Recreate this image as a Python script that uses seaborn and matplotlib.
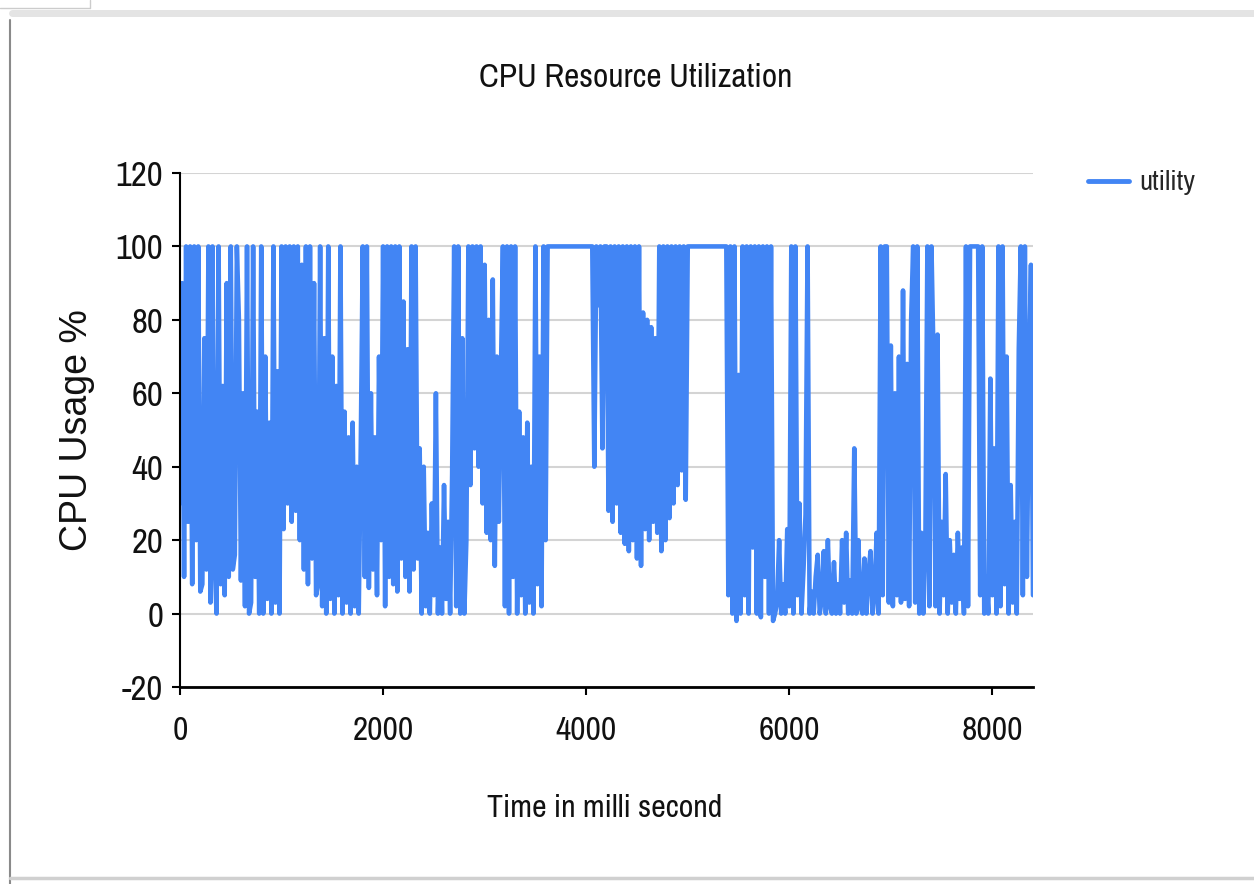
import numpy as np
import pandas as pd
import matplotlib
matplotlib.use("Agg")
import matplotlib.pyplot as plt
from matplotlib.lines import Line2D
import seaborn as sns

# CPU usage samples (%), one every 20 ms
burst_a = [30, 90, 10, 100, 25, 100, 8, 100, 20, 100,
           6, 8, 75, 12, 100, 3, 100, 15, 0, 100,
           8, 62, 5, 90, 10, 100, 12, 16, 100, 80,
           9, 60, 2, 100, 0, 3, 100, 10, 55, 0,
           100, 0, 70, 4, 52, 0, 100, 3, 66, 0,
           100, 23, 100, 30, 100, 25, 100, 28, 100, 20,
           95, 12, 100, 8, 100, 15, 90, 5, 8, 100,
           2, 75, 0, 100, 4, 70, 0, 62, 5, 100,
           0, 55, 3, 48, 0, 52, 2, 40, 0, 45]
burst_b = [100, 10, 100, 7, 60, 12, 48, 5, 70, 20,
           100, 2, 100, 10, 100, 8, 100, 6, 100, 15,
           85, 10, 72, 6, 100, 12, 100, 15, 45, 0,
           40, 2, 22, 0, 30, 5, 60, 0, 18, 0,
           35, 4, 25, 0, 38, 100, 2, 100, 0, 75,
           0, 20, 100, 35, 100, 45, 100, 40, 100, 30,
           95, 22, 80, 20, 91, 13, 70, 25, 65, 100,
           2, 100, 0, 100, 10, 100, 0, 55, 5, 48,
           0, 52, 3, 40, 0, 100, 8, 70, 2, 100,
           20, 100, 100]
plateau_a = [100, 100, 100, 100, 100, 100, 100, 100, 100, 100,
             100, 100, 100, 100, 100, 100, 100, 100, 100, 100, 100]
dense_c = [40, 100, 84, 100, 45, 100, 100,
           28, 100, 25, 100, 30, 100, 22, 100, 19, 100,
           17, 100, 20, 100, 15, 100, 13, 82, 23, 80,
           20, 78, 25, 75, 22, 100, 17, 100, 20, 100,
           26, 100, 30, 100, 35, 100, 39,
           100, 31]
plateau_b = [100, 100, 100, 100, 100, 100, 100, 100, 100, 100,
             100, 100, 100, 100, 100, 100, 100, 100, 100]
dense_d = [100, 5, 100, 0, 100, -2, 65, 0, 100, 5,
           100, 0, 100, 18, 100, 0, 100, -1, 100, 10,
           100, 0, 100, -2]
quiet_e = [0, 3, 20, 0, 8, 0, 23, 2, 100, 0,
           100, 5, 30, 0, 12, 27, 100, 0, 6, 0,
           10, 16, 0, 4, 17, 0, 20, 2, 0, 14,
           0, 8, 0, 20, 3, 22, 0, 9, 0, 45,
           0, 20, 2, 0, 15, 0, 11, 17, 0, 5,
           22, 0]
burst_f = [100, 5, 100, 100, 3, 73, 2, 60, 5, 70,
           3, 88, 4, 68, 2, 80, 100, 3, 100, 0,
           22, 0, 18, 100, 2, 100, 70, 2, 76, 0,
           25, 5, 38, 0, 20, 3, 16, 0, 22, 4,
           18]
plateau_g = [0, 100, 2, 100, 100, 100, 100, 100, 5, 100, 0]
burst_h = [10, 0, 64, 5, 45, 0, 100, 2, 100, 8,
           70, 0, 35, 3, 25, 0, 72, 100, 5, 100,
           10, 64, 95, 5]

usage = burst_a + burst_b + plateau_a + dense_c + plateau_b + dense_d + quiet_e + burst_f + plateau_g + burst_h
step_ms = 20
df = pd.DataFrame({"time": np.arange(len(usage)) * step_ms, "utility": usage})

y_ticks = [-20, 0, 20, 40, 60, 80, 100, 120]
x_ticks = [0, 2000, 4000, 6000, 8000]

line_color = "#4285F4"

sns.set_style("white")
narrow = ["Liberation Sans Narrow", "Archivo Narrow", "Roboto Condensed", "Liberation Sans", "DejaVu Sans"]
plt.rcParams["font.family"] = narrow

W, H = 1254, 884
fig = plt.figure(figsize=(W / 100, H / 100), dpi=100)
ax = fig.add_axes([180 / W, 1 - 687 / H, (1033 - 180) / W, (687 - 173) / H])

sns.lineplot(data=df, x="time", y="utility", ax=ax, color=line_color, lw=3.3,
             estimator=None, label="utility")

ax.set_xlim(0, 8400)
ax.set_ylim(-20, 120)
ax.set_xticks(x_ticks)
ax.set_yticks(y_ticks)
ax.set_xticklabels([str(t) for t in x_ticks], fontsize=24, color="#111111")
ax.set_yticklabels([str(t) for t in y_ticks], fontsize=25, color="#111111")
ax.yaxis.grid(True, color="#d4d4d4", lw=1.5)
ax.xaxis.grid(False)
ax.set_axisbelow(True)
for s in ["top", "right"]:
    ax.spines[s].set_visible(False)
ax.spines["left"].set_color("black")
ax.spines["left"].set_linewidth(1.5)
ax.spines["bottom"].set_color("black")
ax.spines["bottom"].set_linewidth(2)
ax.tick_params(axis="y", direction="out", length=6, width=1.5, color="black", pad=6, left=True)
ax.tick_params(axis="x", direction="out", length=6, width=1.5, color="black", pad=15, bottom=True)
ax.set_xlabel("")
ax.set_ylabel("CPU Usage %", family=["Liberation Sans", "DejaVu Sans"], fontsize=27, color="#111111")
ax.yaxis.set_label_coords(-0.1, 0.5)

leg = ax.legend(loc="center left", bbox_to_anchor=(1088 / W, 1 - 183 / H),
                bbox_transform=fig.transFigure, frameon=False, fontsize=20.5,
                borderpad=0, borderaxespad=0, handlelength=1.45, handletextpad=0.35)
leg.get_lines()[0].set_linewidth(3.5)

fig.text(636 / W, 1 - 78 / H, "CPU Resource Utilization", ha="center", va="center",
         fontsize=24, color="#111111")
fig.text(605 / W, 1 - 808 / H, "Time in milli second", ha="center", va="center",
         fontsize=23, color="#111111")

# page frame around the chart
fig.add_artist(Line2D([12 / W, 1], [1 - 13 / H, 1 - 13 / H], color="#e4e4e4", lw=5))
fig.add_artist(Line2D([10 / W, 10 / W], [0, 1 - 20 / H], color="#8a8a8a", lw=1.5))
fig.add_artist(Line2D([10 / W, 1], [1 - 878 / H, 1 - 878 / H], color="#d0d0d0", lw=2.5))
fig.add_artist(Line2D([0, 90 / W, 90 / W], [1 - 8 / H, 1 - 8 / H, 1], color="#cccccc", lw=1))

fig.savefig("out.png", dpi=100)
